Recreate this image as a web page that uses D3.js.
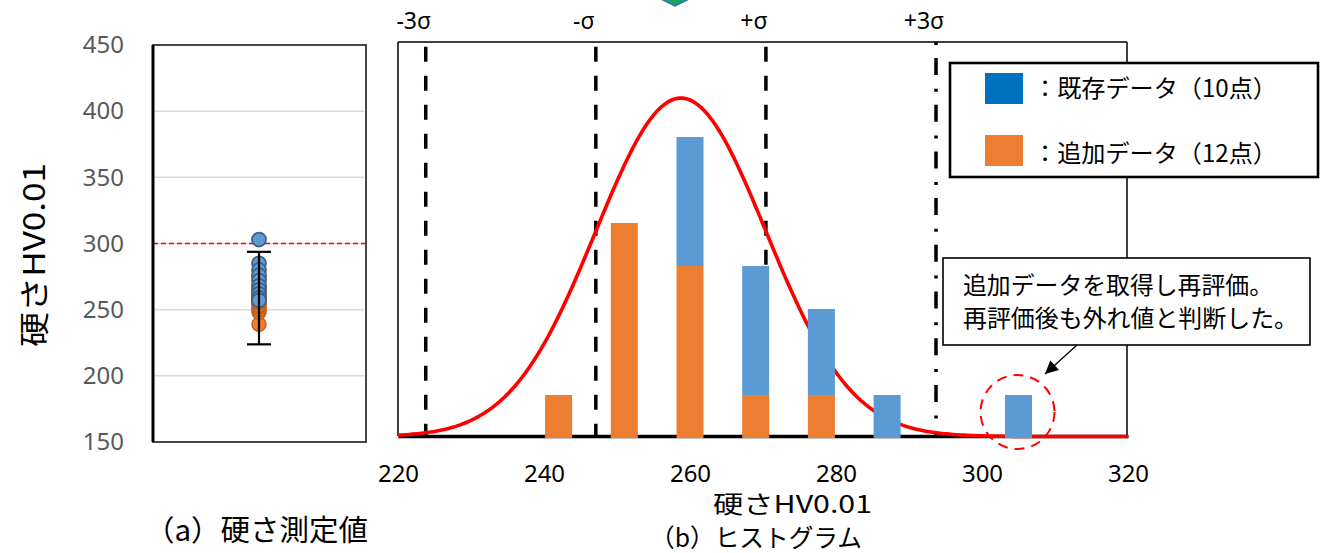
<!DOCTYPE html>
<html lang="ja">
<head>
<meta charset="utf-8">
<title>硬さ測定値とヒストグラム</title>
<script src="https://cdnjs.cloudflare.com/ajax/libs/d3/7.8.5/d3.min.js"></script>
<style>
  body { margin: 0; background: #fff; }
  svg { display: block; }
  text { font-family: "Noto Sans CJK JP", "Noto Sans", sans-serif; }
  .num text, text.num { font-family: "Noto Sans", "Noto Sans CJK JP", sans-serif; }
</style>
</head>
<body>
<script>
// ---- data ----
var yTicks = [150, 200, 250, 300, 350, 400, 450];
var xTicks = [220, 240, 260, 280, 300, 320];

// (a) individual hardness values
var existingValues = [303, 285, 280, 276, 272, 268, 265, 262, 259, 257];
var addedValues = [239, 248, 250, 252, 253, 255, 256, 258, 260, 263, 267, 275];

// (b) histogram
var binCenters = [242, 251, 260, 269, 278, 287, 296, 305];
var addedCounts = [1, 5, 4, 1, 1, 0, 0, 0];
var existingCounts = [0, 0, 3, 3, 2, 1, 0, 1];

var meanHV = 258.75;
var sigmaHV = 11.65;
var curvePeak = 7.87;   // peak of the fitted normal curve, in counts
var sigmaSteps = [-3, -1, 1, 3];
var sigmaLabels = ["-3σ", "-σ", "+σ", "+3σ"];
var limitHV = 300;

var legendLabels = ["：既存データ（10点）", "：追加データ（12点）"];
var noteLines = ["追加データを取得し再評価。", "再評価後も外れ値と判断した。"];

var blue = "#5B9BD5", orange = "#ED7D31";

var svg = d3.select("body").append("svg")
    .attr("width", 1323)
    .attr("height", 553);

// small shape cut off at the top edge
svg.append("path")
    .attr("d", "M659,-2L691,-2L675,6Z")
    .attr("fill", "#1fa463")
    .attr("stroke", "#2f6eb5")
    .attr("stroke-width", 1.5);

// ================= (a) measured values =================
var yLeft = d3.scaleLinear().domain([150, 450]).range([442, 45]);
var leftX0 = 153, leftX1 = 366, pointX = 259;

svg.append("g").selectAll("line")
    .data(yTicks.slice(1, -1))
    .enter().append("line")
    .attr("x1", leftX0 + 2).attr("x2", leftX1 - 2)
    .attr("y1", function(d) { return yLeft(d); })
    .attr("y2", function(d) { return yLeft(d); })
    .attr("stroke", "#d9d9d9")
    .attr("stroke-width", 1.5);

svg.append("line")
    .attr("x1", leftX0).attr("x2", leftX1)
    .attr("y1", yLeft(limitHV)).attr("y2", yLeft(limitHV))
    .attr("stroke", "#ff0000")
    .attr("stroke-width", 1.5)
    .attr("stroke-dasharray", "5,3");

svg.append("rect")
    .attr("x", leftX0).attr("y", yLeft(450))
    .attr("width", leftX1 - leftX0).attr("height", yLeft(150) - yLeft(450))
    .attr("fill", "none")
    .attr("stroke", "#333")
    .attr("stroke-width", 1.8);
svg.append("line")
    .attr("x1", leftX0).attr("x2", leftX0)
    .attr("y1", yLeft(450)).attr("y2", yLeft(150))
    .attr("stroke", "#000").attr("stroke-width", 3);

var leftAxis = svg.append("g")
    .attr("class", "num")
    .attr("transform", "translate(" + leftX0 + ",0)")
    .call(d3.axisLeft(yLeft).tickValues(yTicks).tickSize(0).tickPadding(29));
leftAxis.select(".domain").remove();
leftAxis.selectAll("text")
    .attr("font-size", 24)
    .attr("fill", "#595959");

svg.append("g").selectAll("circle")
    .data(addedValues)
    .enter().append("circle")
    .attr("cx", pointX)
    .attr("cy", function(d) { return yLeft(d); })
    .attr("r", 7)
    .attr("fill", orange)
    .attr("stroke", "#c0601f")
    .attr("stroke-width", 1.5);

svg.append("g").selectAll("circle")
    .data(existingValues)
    .enter().append("circle")
    .attr("cx", pointX)
    .attr("cy", function(d) { return yLeft(d); })
    .attr("r", 7)
    .attr("fill", blue)
    .attr("stroke", "#44607f")
    .attr("stroke-width", 1.8);

// error bar = mean ± 3σ
var errLo = yLeft(meanHV - 3 * sigmaHV), errHi = yLeft(meanHV + 3 * sigmaHV);
var err = svg.append("g").attr("stroke", "#000").attr("stroke-width", 2.2);
err.append("line").attr("x1", pointX).attr("x2", pointX).attr("y1", errHi).attr("y2", errLo);
err.append("line").attr("x1", pointX - 12).attr("x2", pointX + 12).attr("y1", errHi).attr("y2", errHi);
err.append("line").attr("x1", pointX - 12).attr("x2", pointX + 12).attr("y1", errLo).attr("y2", errLo);

svg.append("text")
    .attr("transform", "translate(45,255) rotate(-90)")
    .attr("text-anchor", "middle")
    .attr("font-size", 30)
    .attr("textLength", 184)
    .attr("lengthAdjust", "spacingAndGlyphs")
    .text("硬さHV0.01");

svg.append("text")
    .attr("x", 145).attr("y", 541)
    .attr("font-size", 29)
    .attr("textLength", 223)
    .attr("lengthAdjust", "spacingAndGlyphs")
    .text("（a）硬さ測定値");

// ================= (b) histogram =================
var x = d3.scaleLinear().domain([220, 320]).range([398, 1128]);
var yc = d3.scaleLinear().domain([0, 9]).range([438, 51]);
var plotTop = 42, plotBase = 436, barW = 27;

var frame = svg.append("g").attr("stroke", "#000").attr("stroke-width", 1.5);
frame.append("line").attr("x1", 398).attr("x2", 1127).attr("y1", plotTop).attr("y2", plotTop);
frame.append("line").attr("x1", 398).attr("x2", 398).attr("y1", plotTop).attr("y2", plotBase);
frame.append("line").attr("x1", 1127).attr("x2", 1127).attr("y1", plotTop).attr("y2", plotBase);

var xAxis = svg.append("g")
    .attr("class", "num")
    .attr("transform", "translate(0," + plotBase + ")")
    .call(d3.axisBottom(x).tickValues(xTicks).tickSize(0).tickPadding(29));
xAxis.select(".domain")
    .attr("stroke", "#000")
    .attr("stroke-width", 3.3);
xAxis.selectAll("text")
    .attr("font-size", 24)
    .attr("fill", "#000");

// sigma lines
svg.append("g").selectAll("line")
    .data(sigmaSteps)
    .enter().append("line")
    .attr("x1", function(d) { return x(meanHV + d * sigmaHV); })
    .attr("x2", function(d) { return x(meanHV + d * sigmaHV); })
    .attr("y1", function(d) { return d === 3 ? plotTop : 46.7; })
    .attr("y2", 438)
    .attr("stroke", "#000")
    .attr("stroke-width", 3.5)
    .attr("stroke-dasharray", function(d) { return d === 3 ? "3,13,17,13.7" : "15,14"; });

svg.append("g").attr("class", "num").selectAll("text")
    .data(sigmaSteps)
    .enter().append("text")
    .attr("x", function(d) { return x(meanHV + d * sigmaHV) - 12; })
    .attr("y", 29)
    .attr("text-anchor", "middle")
    .attr("font-size", 23)
    .text(function(d, i) { return sigmaLabels[i]; });

// fitted normal curve
var curveData = d3.range(220, 320.01, 0.5).map(function(v) {
    var z = (v - meanHV) / sigmaHV;
    return [v, curvePeak * Math.exp(-0.5 * z * z)];
});
svg.append("path")
    .datum(curveData)
    .attr("fill", "none")
    .attr("stroke", "#ff0000")
    .attr("stroke-width", 3.6)
    .attr("d", d3.line()
        .x(function(d) { return x(d[0]); })
        .y(function(d) { return yc(d[1]) - 1.5; }));

// stacked bars: added (orange) below, existing (blue) above
var bars = svg.append("g");
bars.selectAll("rect.added")
    .data(binCenters)
    .enter().append("rect")
    .attr("class", "added")
    .attr("x", function(d) { return x(d) - barW / 2; })
    .attr("width", barW)
    .attr("y", function(d, i) { return yc(addedCounts[i]); })
    .attr("height", function(d, i) { return yc(0) - yc(addedCounts[i]); })
    .attr("fill", orange);
bars.selectAll("rect.existing")
    .data(binCenters)
    .enter().append("rect")
    .attr("class", "existing")
    .attr("x", function(d) { return x(d) - barW / 2; })
    .attr("width", barW)
    .attr("y", function(d, i) { return yc(addedCounts[i] + existingCounts[i]); })
    .attr("height", function(d, i) { return yc(addedCounts[i]) - yc(addedCounts[i] + existingCounts[i]); })
    .attr("fill", blue);

svg.append("text")
    .attr("x", 713).attr("y", 513)
    .attr("font-size", 24)
    .attr("textLength", 159)
    .attr("lengthAdjust", "spacingAndGlyphs")
    .text("硬さHV0.01");

svg.append("text")
    .attr("x", 650).attr("y", 547)
    .attr("font-size", 25)
    .attr("textLength", 212)
    .attr("lengthAdjust", "spacingAndGlyphs")
    .text("（b）ヒストグラム");

// legend
var legend = svg.append("g");
legend.append("rect")
    .attr("x", 950).attr("y", 63)
    .attr("width", 368).attr("height", 114)
    .attr("fill", "#fff")
    .attr("stroke", "#000")
    .attr("stroke-width", 2.6);
legend.selectAll("rect.key")
    .data(["#0070C0", orange])
    .enter().append("rect")
    .attr("class", "key")
    .attr("x", 985)
    .attr("y", function(d, i) { return 73 + i * 62; })
    .attr("width", 38).attr("height", 31)
    .attr("fill", function(d) { return d; });
legend.selectAll("text")
    .data(legendLabels)
    .enter().append("text")
    .attr("x", 1033)
    .attr("y", function(d, i) { return 97 + i * 65; })
    .attr("font-size", 24)
    .attr("textLength", 244)
    .attr("lengthAdjust", "spacingAndGlyphs")
    .text(function(d) { return d; });

// outlier callout
svg.append("defs").append("marker")
    .attr("id", "head")
    .attr("viewBox", "0 0 10 10")
    .attr("refX", 10).attr("refY", 5)
    .attr("markerUnits", "userSpaceOnUse")
    .attr("markerWidth", 17).attr("markerHeight", 13)
    .attr("orient", "auto")
    .append("path")
    .attr("d", "M0,0L10,5L0,10Z")
    .attr("fill", "#000");

svg.append("line")
    .attr("x1", 1077).attr("y1", 345)
    .attr("x2", 1045).attr("y2", 374)
    .attr("stroke", "#000")
    .attr("stroke-width", 1.3)
    .attr("marker-end", "url(#head)");

svg.append("rect")
    .attr("x", 943).attr("y", 258)
    .attr("width", 367).attr("height", 87)
    .attr("fill", "#fff")
    .attr("stroke", "#000")
    .attr("stroke-width", 1.6);
svg.append("g").selectAll("text")
    .data(noteLines)
    .enter().append("text")
    .attr("x", 963)
    .attr("y", function(d, i) { return 294 + i * 33; })
    .attr("font-size", 24)
    .attr("textLength", function(d, i) { return i === 0 ? 310 : 335; })
    .attr("lengthAdjust", "spacingAndGlyphs")
    .text(function(d) { return d; });

svg.append("circle")
    .attr("cx", x(binCenters[7]) - 1).attr("cy", 412)
    .attr("r", 37)
    .attr("fill", "none")
    .attr("stroke", "#ff0000")
    .attr("stroke-width", 2)
    .attr("stroke-dasharray", "10,7");
</script>
</body>
</html>
